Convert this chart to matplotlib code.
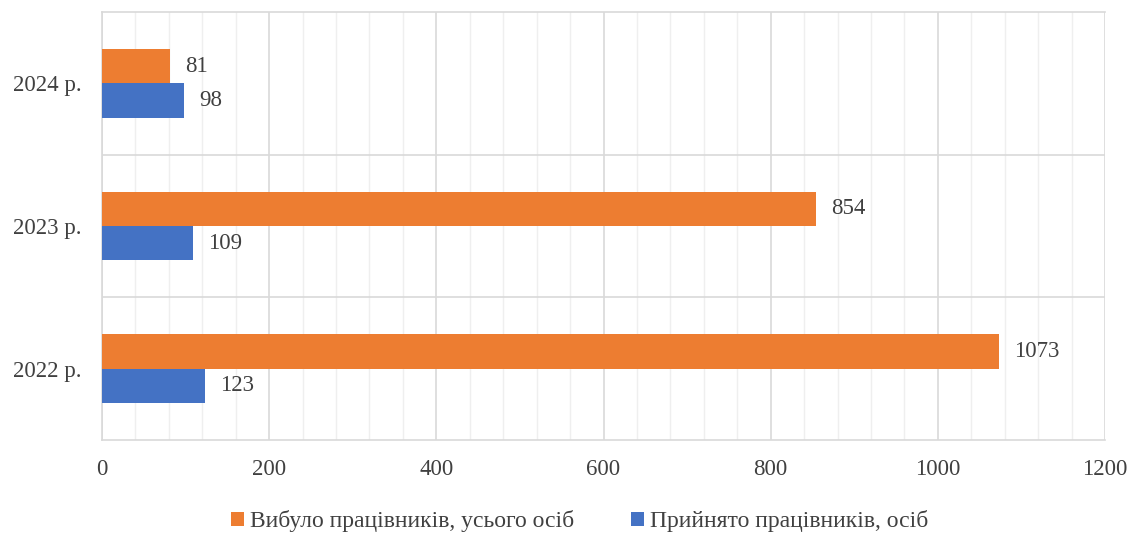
import matplotlib.pyplot as plt
import numpy as np

plt.rcParams['font.family'] = ['Liberation Serif', 'DejaVu Serif']

years = ['2022 р.', '2023 р.', '2024 р.']
left_staff = [1073, 854, 81]
hired_staff = [123, 109, 98]
names = ['Вибуло працівників, усього осіб', 'Прийнято працівників, осіб']

orange = '#ED7D31'
blue = '#4472C4'
txt = '#404040'

fig = plt.figure(figsize=(11.3, 5.34), dpi=100)
ax = fig.add_axes([102 / 1130, 1 - 440 / 534, 1003 / 1130, 428 / 534])

y = np.arange(len(years))
h = 0.24
b1 = ax.barh(y + h / 2, left_staff, height=h, color=orange, label=names[0], zorder=3)
b2 = ax.barh(y - h / 2, hired_staff, height=h, color=blue, label=names[1], zorder=3)

for bars, vals in ((b1, left_staff), (b2, hired_staff)):
    for r, v in zip(bars, vals):
        ax.text(r.get_width() + 18, r.get_y() + r.get_height() / 2, str(v),
                va='center', ha='left', fontsize=16.5, color=txt)

ax.set_xlim(0, 1200)
ax.set_ylim(-0.5, 2.5)
ax.set_xticks(np.arange(0, 1201, 200))
ax.set_xticks(np.arange(0, 1201, 40), minor=True)
ax.set_yticks(y)
ax.set_yticklabels(years)
ax.set_yticks([0.5, 1.5], minor=True)
ax.grid(axis='x', which='major', color='#d9d9d9', lw=1.2, zorder=0)
ax.grid(axis='x', which='minor', color='#efefef', lw=1.0, zorder=0)
ax.grid(axis='y', which='minor', color='#d9d9d9', lw=1.2, zorder=0)
ax.tick_params(which='both', length=0)
ax.tick_params(axis='x', pad=14, labelsize=16.5, labelcolor=txt)
ax.tick_params(axis='y', pad=15, labelsize=16.5, labelcolor=txt)
for s in ax.spines.values():
    s.set_color('#d9d9d9')
    s.set_linewidth(1.2)
ax.spines['right'].set_visible(False)

leg = fig.legend(handles=[b1, b2], loc='center', bbox_to_anchor=(579.5 / 1130, 1 - 521 / 534),
                 ncol=2, frameon=False, fontsize=17, handlelength=0.55, handleheight=0.55,
                 handletextpad=0.25, columnspacing=2.4)
for t in leg.get_texts():
    t.set_color(txt)

fig.savefig('out.png', dpi=100)
